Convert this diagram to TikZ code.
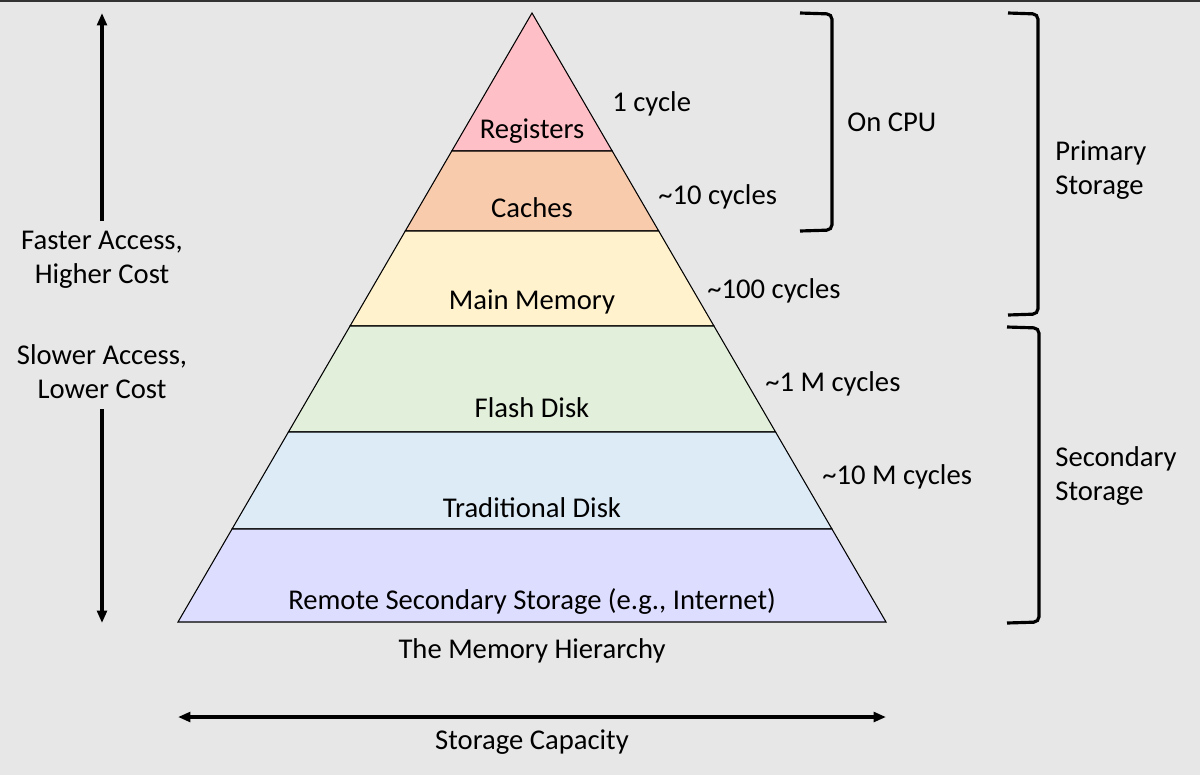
\documentclass[tikz,border=0pt]{standalone}
\usepackage{fontspec}
\setmainfont{Carlito}
\usepackage{tikz}
\usetikzlibrary{arrows.meta}

\definecolor{bgcol}{RGB}{231,231,231}
\definecolor{regcol}{RGB}{255,191,198}
\definecolor{cachecol}{RGB}{248,203,173}
\definecolor{memcol}{RGB}{255,242,204}
\definecolor{flashcol}{RGB}{226,239,218}
\definecolor{diskcol}{RGB}{221,235,247}
\definecolor{remotecol}{RGB}{221,221,255}

\begin{document}
\begin{tikzpicture}[
    x=0.02cm,y=-0.02cm,
    every node/.style={font={\fontsize{16.3}{19.3}\selectfont},inner sep=0pt},
    layer/.style={draw=black,line width=0.6pt},
    label/.style={anchor=base},
    cycles/.style={anchor=base west},
    bracket/.style={line width=1.8pt,rounded corners=3pt},
    axis/.style={line width=2.1pt,-{Triangle[length=7pt,width=5.5pt]}},
    ]
    % Background
    \fill[bgcol] (0,0) rectangle (1200,775);
    \useasboundingbox (0,0) rectangle (1200,775);
    \draw[line width=1.2pt,black!80] (0,1) -- (1200,1);
    % Pyramid layers
    \foreach \ya/\yb/\col in {13/151/regcol,151/231/cachecol,
        231/326/memcol,326/432/flashcol,432/529/diskcol,
        529/622/remotecol}{
        \pgfmathsetmacro\wa{0.5813*(\ya-13)}
        \pgfmathsetmacro\wb{0.5813*(\yb-13)}
        \filldraw[layer,fill=\col] ({532-\wa},\ya) -- ({532+\wa},\ya)
            -- ({532+\wb},\yb) -- ({532-\wb},\yb) -- cycle;
    }
    % Layer names
    \node[label] (reg)    at (532,138) {Registers};
    \node[label] (cache)  at (532,217) {Caches};
    \node[label] (mem)    at (532,309) {Main Memory};
    \node[label] (flash)  at (532,417) {Flash Disk};
    \node[label] (disk)   at (532,517) {Traditional Disk};
    \node[label] (remote) at (532,609) {Remote Secondary Storage (e.g., Internet)};
    \node[label] (title)  at (532,658) {The Memory Hierarchy};
    % Access times
    \node[cycles] (c1) at (612,111) {1 cycle};
    \node[cycles] (c2) at (658,204) {\textasciitilde10 cycles};
    \node[cycles] (c3) at (707,298) {\textasciitilde100 cycles};
    \node[cycles] (c4) at (765,391) {\textasciitilde1 M cycles};
    \node[cycles] (c5) at (822,484) {\textasciitilde10 M cycles};
    % Brackets
    \draw[bracket] (800,13) -- (832,14) -- (832,230) -- (800,231);
    \node[cycles] (cpu) at (847,131) {On CPU};
    \draw[bracket] (1008,13) -- (1038,14) -- (1038,314) -- (1008,315);
    \node[anchor=west,align=left] (prim) at (1055,170) {Primary\\Storage};
    \draw[bracket] (1007,327) -- (1039,328) -- (1039,622) -- (1007,623);
    \node[anchor=west,align=left] (sec) at (1055,476) {Secondary\\Storage};
    % Speed and cost
    \node[align=center] (fast) at (102,260) {Faster Access,\\Higher Cost};
    \node[align=center] (slow) at (102,372) {Slower Access,\\Lower Cost};
    \coordinate (fasttip) at (102,13);
    \coordinate (slowtip) at (102,623);
    \draw[axis] (fast.north) ++(0,-10) -- (fasttip);
    \draw[axis] (slow.south) ++(0,10) -- (slowtip);
    % Capacity
    \coordinate (capl) at (178,717);
    \coordinate (capr) at (886,717);
    \draw[axis,{Triangle[length=7pt,width=5.5pt]}-{Triangle[length=7pt,width=5.5pt]}]
        (capl) -- (capr);
    \node[label] (cap) at (532,749) {Storage Capacity};
\end{tikzpicture}
\end{document}
